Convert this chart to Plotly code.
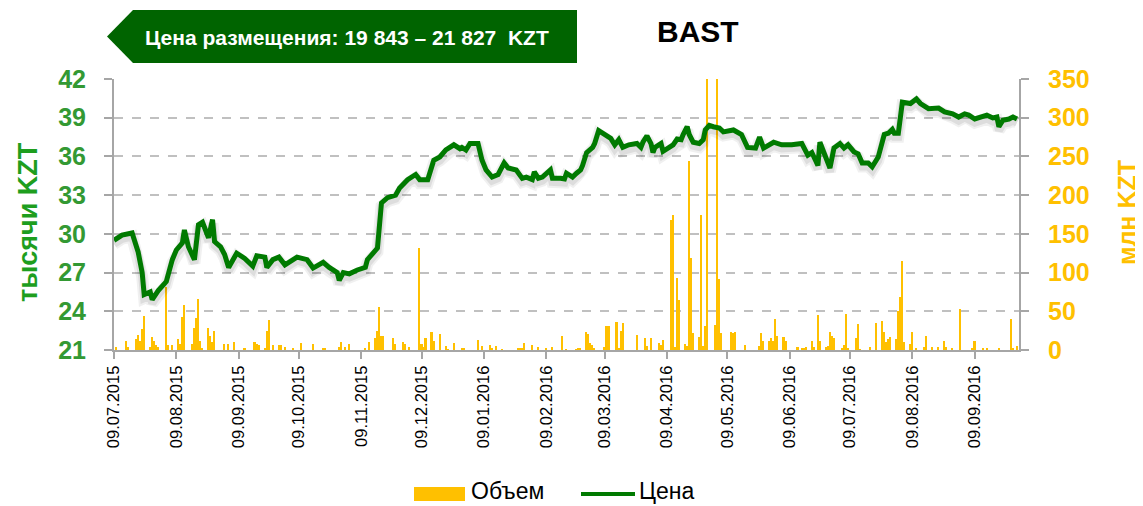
import plotly.graph_objects as go

# ---------------- data ----------------
price_dates = [
    "2015-07-09", "2015-07-13", "2015-07-18", "2015-07-21", "2015-07-23", "2015-07-24", "2015-07-27",
    "2015-07-28", "2015-07-31", "2015-08-04", "2015-08-07", "2015-08-09", "2015-08-12", "2015-08-13",
    "2015-08-15", "2015-08-18", "2015-08-20", "2015-08-22", "2015-08-25", "2015-08-27", "2015-08-28",
    "2015-08-31", "2015-09-02", "2015-09-04", "2015-09-08", "2015-09-12", "2015-09-16", "2015-09-18",
    "2015-09-22", "2015-09-23", "2015-09-26", "2015-09-29", "2015-10-02", "2015-10-08", "2015-10-13",
    "2015-10-16", "2015-10-21", "2015-10-24", "2015-10-28", "2015-10-29", "2015-10-31", "2015-11-03",
    "2015-11-07", "2015-11-11", "2015-11-12", "2015-11-17", "2015-11-19", "2015-11-22", "2015-11-26",
    "2015-11-28", "2015-12-02", "2015-12-06", "2015-12-08", "2015-12-12", "2015-12-15", "2015-12-18",
    "2015-12-21", "2015-12-25", "2015-12-28", "2015-12-29", "2015-12-31", "2016-01-02", "2016-01-06",
    "2016-01-08", "2016-01-10", "2016-01-13", "2016-01-16", "2016-01-19", "2016-01-21", "2016-01-25",
    "2016-01-28", "2016-01-30", "2016-02-02", "2016-02-03", "2016-02-05", "2016-02-07", "2016-02-11",
    "2016-02-12", "2016-02-16", "2016-02-18", "2016-02-19", "2016-02-22", "2016-02-24", "2016-02-26",
    "2016-02-27", "2016-02-29", "2016-03-03", "2016-03-04", "2016-03-06", "2016-03-08", "2016-03-12",
    "2016-03-14", "2016-03-16", "2016-03-18", "2016-03-21", "2016-03-25", "2016-03-27", "2016-03-28",
    "2016-03-30", "2016-04-01", "2016-04-02", "2016-04-03", "2016-04-06", "2016-04-07", "2016-04-10",
    "2016-04-12", "2016-04-14", "2016-04-16", "2016-04-17", "2016-04-19", "2016-04-20", "2016-04-22",
    "2016-04-25", "2016-04-27", "2016-04-28", "2016-04-30", "2016-05-02", "2016-05-05", "2016-05-07",
    "2016-05-12", "2016-05-16", "2016-05-18", "2016-05-19", "2016-05-23", "2016-05-25", "2016-05-27",
    "2016-06-01", "2016-06-05", "2016-06-10", "2016-06-15", "2016-06-18", "2016-06-20", "2016-06-23",
    "2016-06-24", "2016-06-26", "2016-06-28", "2016-06-29", "2016-07-01", "2016-07-04", "2016-07-06",
    "2016-07-08", "2016-07-11", "2016-07-13", "2016-07-15", "2016-07-18", "2016-07-20", "2016-07-23",
    "2016-07-26", "2016-07-28", "2016-07-30", "2016-07-31", "2016-08-02", "2016-08-04", "2016-08-08",
    "2016-08-11", "2016-08-13", "2016-08-17", "2016-08-22", "2016-08-25", "2016-08-29", "2016-09-01",
    "2016-09-04", "2016-09-06", "2016-09-09", "2016-09-12", "2016-09-15", "2016-09-18", "2016-09-20",
    "2016-09-21", "2016-09-23", "2016-09-26", "2016-09-28", "2016-09-30",
]
price_values = [  # тысячи KZT
    29.5, 29.9, 30.07, 28.6, 27.0, 25.3, 25.5,
    24.9, 25.6, 26.3, 28.0, 28.75, 29.3, 30.3,
    29.0, 28.0, 30.7, 30.9, 29.7, 31.1, 29.4,
    29.0, 28.4, 27.4, 28.5, 28.1, 27.5, 28.3,
    28.2, 27.4, 28.0, 28.2, 27.6, 28.2, 28.0,
    27.35, 27.8, 27.4, 27.0, 26.4, 27.0, 26.9,
    27.2, 27.4, 28.0, 28.9, 32.4, 32.8, 33.0,
    33.55, 34.2, 34.6, 34.2, 34.2, 35.7, 35.96,
    36.5, 36.9, 36.6, 36.7, 36.5, 37.0, 37.0,
    35.7, 34.95, 34.4, 34.6, 35.5, 35.1, 34.95,
    34.3, 34.4, 34.2, 34.8, 34.3, 34.4, 34.95,
    34.3, 34.3, 34.25, 34.7, 34.4, 34.7, 34.95,
    35.3, 36.3, 36.7, 37.0, 38.0, 37.8, 37.4,
    36.9, 37.3, 36.7, 36.9, 37.0, 36.7, 37.1,
    37.6, 37.0, 36.3, 36.7, 37.0, 36.4, 36.7,
    36.9, 37.35, 37.3, 37.7, 38.3, 37.7, 37.1,
    37.0, 37.3, 38.05, 38.4, 38.3, 38.2, 37.9,
    38.05, 37.7, 37.1, 36.7, 36.65, 37.5, 36.65,
    37.1, 36.9, 36.9, 37.0, 36.1, 36.3, 35.3,
    37.1, 36.35, 35.6, 35.1, 36.65, 37.0, 36.65,
    36.9, 36.35, 36.2, 35.5, 35.5, 35.2, 35.95,
    37.7, 37.8, 38.1, 37.8, 37.8, 40.2, 40.1,
    40.45, 40.1, 39.7, 39.75, 39.45, 39.3, 39.05,
    39.3, 39.2, 38.9, 39.05, 39.2, 38.98, 39.05,
    38.3, 38.8, 38.9, 39.05, 38.9,
]

vol_dates = [
    "2015-07-10", "2015-07-15", "2015-07-16", "2015-07-20", "2015-07-21", "2015-07-22", "2015-07-23",
    "2015-07-24", "2015-07-27", "2015-07-28", "2015-07-29", "2015-07-30", "2015-07-31", "2015-08-04",
    "2015-08-05", "2015-08-07", "2015-08-10", "2015-08-11", "2015-08-12", "2015-08-13", "2015-08-17",
    "2015-08-18", "2015-08-19", "2015-08-20", "2015-08-21", "2015-08-22", "2015-08-25", "2015-08-26",
    "2015-08-27", "2015-08-28", "2015-09-02", "2015-09-04", "2015-09-07", "2015-09-12", "2015-09-17",
    "2015-09-18", "2015-09-19", "2015-09-22", "2015-09-23", "2015-09-24", "2015-09-26", "2015-09-29",
    "2015-09-30", "2015-10-02", "2015-10-06", "2015-10-10", "2015-10-16", "2015-10-21", "2015-10-22",
    "2015-10-29", "2015-10-30", "2015-11-01", "2015-11-03", "2015-11-11", "2015-11-13", "2015-11-16",
    "2015-11-17", "2015-11-18", "2015-11-19", "2015-11-20", "2015-11-25", "2015-11-26", "2015-11-30",
    "2015-12-01", "2015-12-03", "2015-12-08", "2015-12-09", "2015-12-10", "2015-12-11", "2015-12-14",
    "2015-12-15", "2015-12-18", "2015-12-21", "2015-12-22", "2015-12-25", "2015-12-29", "2015-12-30",
    "2016-01-06", "2016-01-08", "2016-01-12", "2016-01-13", "2016-01-15", "2016-01-18", "2016-01-26",
    "2016-01-27", "2016-01-28", "2016-01-29", "2016-02-02", "2016-02-05", "2016-02-09", "2016-02-12",
    "2016-02-17", "2016-02-19", "2016-02-24", "2016-02-25", "2016-02-26", "2016-02-29", "2016-03-01",
    "2016-03-02", "2016-03-03", "2016-03-04", "2016-03-09", "2016-03-10", "2016-03-11", "2016-03-15",
    "2016-03-16", "2016-03-17", "2016-03-18", "2016-03-25", "2016-03-29", "2016-03-30", "2016-04-01",
    "2016-04-05", "2016-04-06", "2016-04-07", "2016-04-11", "2016-04-12", "2016-04-13", "2016-04-14",
    "2016-04-15", "2016-04-18", "2016-04-19", "2016-04-20", "2016-04-21", "2016-04-22", "2016-04-25",
    "2016-04-26", "2016-04-27", "2016-04-28", "2016-04-29", "2016-05-03", "2016-05-04", "2016-05-05",
    "2016-05-06", "2016-05-11", "2016-05-12", "2016-05-13", "2016-05-18", "2016-05-25", "2016-05-26",
    "2016-05-27", "2016-05-30", "2016-05-31", "2016-06-01", "2016-06-02", "2016-06-03", "2016-06-06",
    "2016-06-07", "2016-06-13", "2016-06-15", "2016-06-16", "2016-06-17", "2016-06-20", "2016-06-21",
    "2016-06-23", "2016-06-24", "2016-06-27", "2016-06-28", "2016-06-29", "2016-06-30", "2016-07-01",
    "2016-07-05", "2016-07-06", "2016-07-07", "2016-07-08", "2016-07-12", "2016-07-13", "2016-07-14",
    "2016-07-19", "2016-07-22", "2016-07-25", "2016-07-26", "2016-07-27", "2016-07-28", "2016-07-29",
    "2016-08-01", "2016-08-02", "2016-08-03", "2016-08-04", "2016-08-05", "2016-08-08", "2016-08-09",
    "2016-08-11", "2016-08-15", "2016-08-16", "2016-08-19", "2016-08-22", "2016-08-25", "2016-08-26",
    "2016-08-29", "2016-09-02", "2016-09-08", "2016-09-09", "2016-09-13", "2016-09-15", "2016-09-21",
    "2016-09-27", "2016-09-28", "2016-09-30",
]
vol_values = [  # млн KZT
    4, 11.6, 4, 14, 19, 12, 27,
    44, 4, 17, 12, 6, 4, 81,
    6, 6, 14.6, 8, 43, 58, 8,
    28, 41, 66, 12, 2, 28, 18,
    10, 25, 8, 8, 10, 2, 10,
    8, 6, 2, 24.5, 38.7, 6, 6,
    6, 4, 2, 9, 8, 2, 2,
    4, 10, 4, 8, 3, 10, 15,
    25, 56, 18, 18, 16, 8, 10,
    8, 4, 132, 8, 4, 16, 23,
    11, 21, 5, 1, 9.5, 2.6, 2.6,
    13, 5, 7, 2.6, 5.6, 1, 2.6,
    2.6, 3, 8.6, 6.5, 4, 3, 3.4,
    18, 1, 1, 3, 2.6, 23.7, 21,
    8.6, 6.5, 2, 4, 31, 31, 36.6,
    3, 24.5, 34.4, 19.4, 16, 5, 16,
    8.6, 6.5, 13, 168, 175, 4, 92.6,
    64.6, 8, 5, 244.5, 119, 21.5, 17,
    174, 5, 31, 400, 32, 420, 91.7,
    22, 23, 22, 23, 6, 5, 21.5,
    11, 11, 16, 12, 40, 18.7, 17,
    11, 4, 2, 3, 4, 11, 4,
    45, 12, 4, 5, 23, 18.7, 16,
    2, 7, 47, 2, 16, 33.6, 1,
    4, 35, 37.5, 23, 10, 14.6, 16.7,
    14.6, 50, 68, 115, 10, 8, 23,
    2, 4, 18, 4, 4, 12, 4,
    2, 53, 2, 11, 2, 3, 3,
    40, 3, 5,
]

tick_dates = [
    "2015-07-09", "2015-08-09", "2015-09-09", "2015-10-09", "2015-11-09", "2015-12-09",
    "2016-01-09", "2016-02-09", "2016-03-09", "2016-04-09", "2016-05-09", "2016-06-09",
    "2016-07-09", "2016-08-09", "2016-09-09",
]
tick_labels = [
    "09.07.2015", "09.08.2015", "09.09.2015", "09.10.2015", "09.11.2015", "09.12.2015",
    "09.01.2016", "09.02.2016", "09.03.2016", "09.04.2016", "09.05.2016", "09.06.2016",
    "09.07.2016", "09.08.2016", "09.09.2016",
]
price_ticks = [21, 24, 27, 30, 33, 36, 39, 42]
vol_ticks = [0, 50, 100, 150, 200, 250, 300, 350]

title_text = "BAST"
banner_text = "Цена размещения: 19 843 – 21 827  KZT"
left_title = "тысячи KZT"
right_title = "млн KZT"
legend_names = ["Объем", "Цена"]

# ---------------- styling ----------------
GREEN_LINE = "#007A00"
GREEN_TXT = "#339933"
GREEN_TITLE = "#1E9E1E"
YELLOW = "#FFC000"
BANNER = "#006400"
GRID = "#C0C0C0"
AXIS = "#A6A6A6"
FONT = "Liberation Sans, Arial, sans-serif"

# page body has an 8px margin, so the figure is 8px smaller each way
W, H = 1135, 498
PL, PR, PT, PB = 114, 1019, 79, 350  # plot area in window pixels

fig = go.Figure()

fig.add_trace(go.Bar(
    x=vol_dates, y=vol_values, yaxis="y", name=legend_names[0],
    marker=dict(color=YELLOW, line=dict(width=0)),
    width=0.8 * 86400000, showlegend=False, hoverinfo="x+y",
))

# soft shadow of the price line (same data, axis shifted slightly)
fig.add_trace(go.Scatter(
    x=price_dates, y=price_values, yaxis="y2", mode="lines",
    line=dict(color="rgba(0,0,0,0.06)", width=12), showlegend=False, hoverinfo="skip",
))
fig.add_trace(go.Scatter(
    x=price_dates, y=price_values, yaxis="y2", mode="lines",
    line=dict(color="rgba(0,0,0,0.08)", width=8), showlegend=False, hoverinfo="skip",
))

fig.add_trace(go.Scatter(
    x=price_dates, y=price_values, yaxis="y3", mode="lines", name=legend_names[1],
    line=dict(color=GREEN_LINE, width=5), showlegend=False,
))

fig.update_layout(
    width=W, height=H,
    margin=dict(l=PL - 8, r=W - (PR - 8), t=PT - 8, b=H - (PB - 8)),
    paper_bgcolor="white", plot_bgcolor="white",
    font=dict(family=FONT, color="black"),
    bargap=0,
    showlegend=False,
    xaxis=dict(
        type="date",
        range=["2015-07-09", "2016-10-01"],
        tickmode="array", tickvals=tick_dates, ticktext=tick_labels,
        tickangle=-90, tickfont=dict(size=16.5, color="black", family=FONT),
        ticks="outside", ticklen=7, tickwidth=1.5, tickcolor=AXIS,
        showline=True, linecolor=AXIS, linewidth=2,
        showgrid=False, zeroline=False,
    ),
    yaxis=dict(
        range=[0, 350], tickmode="array", tickvals=vol_ticks,
        side="right",
        tickfont=dict(size=25, color=YELLOW, family=FONT, weight="bold"),
        ticks="outside", ticklen=8, tickwidth=1.5, tickcolor=AXIS,
        ticklabelstandoff=14,
        showline=True, linecolor=AXIS, linewidth=2,
        showgrid=True, gridcolor=GRID, gridwidth=1.5, griddash="dash",
        zeroline=False,
    ),
    yaxis2=dict(
        range=[21 + 0.28, 42 + 0.28], overlaying="y", visible=False,
    ),
    yaxis3=dict(
        range=[21, 42], tickmode="array", tickvals=price_ticks,
        overlaying="y", side="left",
        tickfont=dict(size=25, color=GREEN_TXT, family=FONT, weight="bold"),
        ticks="outside", ticklen=8, tickwidth=1.5, tickcolor=AXIS,
        ticklabelstandoff=13,
        showline=True, linecolor=AXIS, linewidth=2,
        showgrid=False, zeroline=False,
    ),
)


def px(xp):
    return (xp - PL) / (PR - PL)


def py(yp):
    return (PB - yp) / (PB - PT)


# banner arrow
path = "M {a},{t} L {b},{t} L {b},{bt} L {a},{bt} L {tip},{m} Z".format(
    a=px(133), b=px(577), t=py(10), bt=py(63), tip=px(107), m=py(36.5))
fig.add_shape(type="path", xref="paper", yref="paper", path=path,
              fillcolor=BANNER, line=dict(width=0), layer="above")

annotations = [
    dict(text=banner_text, x=px(347), y=py(37), xref="paper", yref="paper",
         showarrow=False, xanchor="center", yanchor="middle",
         font=dict(size=21, color="white", family=FONT, weight="bold")),
    dict(text=title_text, x=px(698), y=py(32), xref="paper", yref="paper",
         showarrow=False, xanchor="center", yanchor="middle",
         font=dict(size=30, color="black", family=FONT, weight="bold")),
    dict(text=left_title, x=px(28), y=py(222), xref="paper", yref="paper",
         showarrow=False, xanchor="center", yanchor="middle", textangle=-90,
         font=dict(size=27, color=GREEN_TITLE, family=FONT, weight="bold")),
    dict(text=right_title, x=px(1127), y=py(213), xref="paper", yref="paper",
         showarrow=False, xanchor="center", yanchor="middle", textangle=-90,
         font=dict(size=25, color=YELLOW, family=FONT, weight="bold")),
    dict(text=legend_names[0], x=px(470), y=py(491), xref="paper", yref="paper",
         showarrow=False, xanchor="left", yanchor="middle", borderpad=0,
         font=dict(size=23, color="black", family=FONT)),
    dict(text=legend_names[1], x=px(638), y=py(491), xref="paper", yref="paper",
         showarrow=False, xanchor="left", yanchor="middle", borderpad=0,
         font=dict(size=23, color="black", family=FONT)),
]
fig.update_layout(annotations=annotations)

# manual legend symbols
fig.add_shape(type="rect", xref="paper", yref="paper",
              x0=px(414), x1=px(465), y0=py(487), y1=py(501),
              fillcolor=YELLOW, line=dict(width=0))
fig.add_shape(type="line", xref="paper", yref="paper",
              x0=px(581), x1=px(635), y0=py(494), y1=py(494),
              line=dict(color=GREEN_LINE, width=4))

fig.write_html("out.html")
